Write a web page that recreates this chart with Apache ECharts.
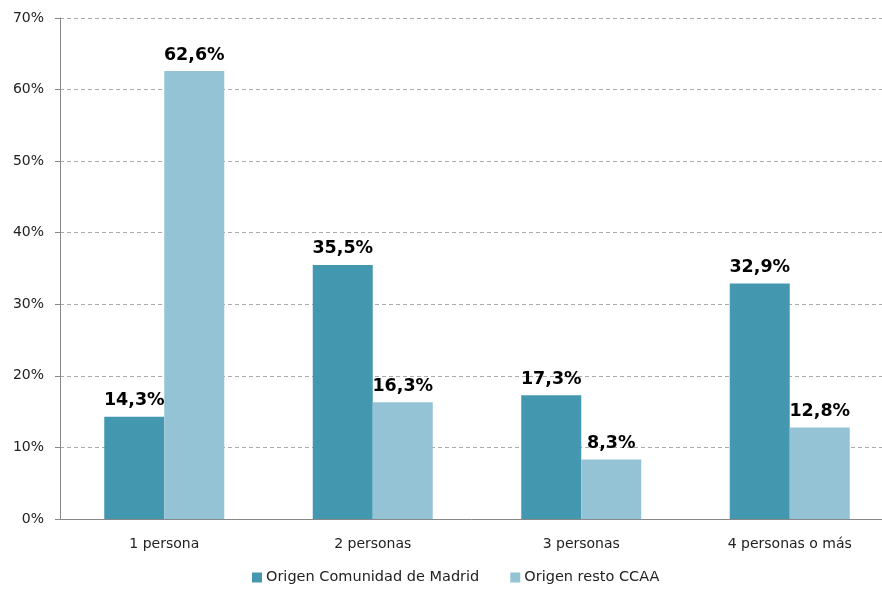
<!DOCTYPE html>
<html><head><meta charset="utf-8">
<script src="https://cdn.jsdelivr.net/npm/echarts@6/dist/echarts.min.js"></script>
<style>html,body{margin:0;padding:0;background:#fff}#c{width:882px;height:590px}</style>
</head><body><div id="c"></div>
<script>
const categories = ['1 persona', '2 personas', '3 personas', '4 personas o más'];
const madrid = [14.3, 35.5, 17.3, 32.9];
const restoCCAA = [62.6, 16.3, 8.3, 12.8];
const seriesNames = ['Origen Comunidad de Madrid', 'Origen resto CCAA'];
const yTicks = [0, 10, 20, 30, 40, 50, 60, 70];

const fmt = v => v.toFixed(1).replace('.', ',') + '%';
const font = 'DejaVu Sans';
const chart = echarts.init(document.getElementById('c'));
const labelCfg = {
  show: true, position: 'top', distance: 7,
  formatter: p => fmt(p.value),
  fontFamily: font, fontWeight: 'bold', fontSize: 17.5, color: '#000'
};
chart.setOption({
  animation: false,
  textStyle: { fontFamily: font },
  grid: { left: 60, top: 18, width: 834, height: 501, containLabel: false, outerBoundsMode: 'none' },
  legend: {
    bottom: 0, left: 247, itemWidth: 10, itemHeight: 10, itemGap: 31,
    icon: 'rect',
    textStyle: { fontFamily: font, fontSize: 14.5, color: '#222', padding: [0, 0, 0, -1] },
    data: seriesNames
  },
  xAxis: {
    type: 'category', data: categories,
    axisLine: { lineStyle: { color: '#888' } },
    axisTick: { show: false },
    axisLabel: { fontFamily: font, fontSize: 14, color: '#222', margin: 18 }
  },
  yAxis: {
    type: 'value', min: 0, max: 70, interval: 10,
    axisLine: { show: true, lineStyle: { color: '#888' } },
    axisTick: { show: true, length: 5, lineStyle: { color: '#888' } },
    splitLine: { lineStyle: { color: '#aaa', type: [4, 3] } },
    axisLabel: { fontFamily: font, fontSize: 14, color: '#222', margin: 16,
      formatter: v => yTicks.includes(v) ? v + '%' : '' }
  },
  series: [
    { name: seriesNames[0], type: 'bar', data: madrid, barWidth: 60, barGap: '0%',
      itemStyle: { color: '#4398B0' }, label: labelCfg },
    { name: seriesNames[1], type: 'bar', data: restoCCAA, barWidth: 60, barGap: '0%',
      itemStyle: { color: '#93C3D4' }, label: labelCfg }
  ]
});
</script></body></html>
